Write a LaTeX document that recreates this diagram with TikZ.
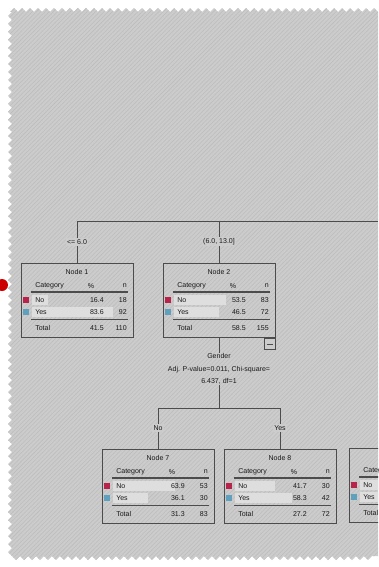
\documentclass[tikz,border=0pt]{standalone}
\usepackage{fontspec}
\setmainfont{Liberation Sans}
\usetikzlibrary{calc,patterns}

\definecolor{bggray}{gray}{0.80}
\definecolor{hatchgray}{gray}{0.74}
\definecolor{boxgray}{gray}{0.30}
\definecolor{bargray}{gray}{0.87}
\definecolor{noRed}{RGB}{185,35,75}
\definecolor{yesBlue}{RGB}{95,160,190}

\tikzset{
  nodebox/.style={draw=boxgray, line width=0.7pt, minimum width=28mm, minimum height=18.5mm, inner sep=0pt},
  cell/.style={font=\fontsize{5}{6}\selectfont, inner sep=0pt, text=black!90},
  lbl/.style={font=\fontsize{5}{6}\selectfont, fill=bggray, inner sep=1pt, text=black!90},
  rule/.style={draw=boxgray, line width=0.5pt},
  link/.style={draw=boxgray, line width=0.7pt},
  catmark/.style={minimum size=1.4mm, inner sep=0pt},
}

% one category node: name, centre, title, No %, No n, Yes %, Yes n, Total %, Total n
\newcommand{\catnode}[9]{%
  \node[nodebox] (#1) at (#2) {};
  \fill[bargray] ($(#1)+(-45,-5)$) rectangle ($(#1)+(-45+#4*0.97,5)$);
  \fill[bargray] ($(#1)+(-45,7)$) rectangle ($(#1)+(-45+#6*0.97,17)$);
  \node[cell] (#1-t) at ($(#1)+(0,-28)$) {#3};
  \node[cell, anchor=west] (#1-c) at ($(#1)+(-42,-14)$) {Category};
  \node[cell] (#1-p) at ($(#1)+(14,-14)$) {\%};
  \node[cell, anchor=east] (#1-n) at ($(#1)+(50,-14)$) {n};
  \draw[rule, line width=0.8pt] ($(#1)+(-46,-8)$) -- ($(#1)+(51,-8)$);
  \node[catmark, fill=noRed] (#1-m1) at ($(#1)+(-51,0)$) {};
  \node[cell, anchor=west] (#1-r1) at ($(#1)+(-42,0)$) {No};
  \node[cell, anchor=east] at ($(#1)+(27,0)$) {#4};
  \node[cell, anchor=east] at ($(#1)+(50,0)$) {#5};
  \node[catmark, fill=yesBlue] (#1-m2) at ($(#1)+(-51,12)$) {};
  \node[cell, anchor=west] (#1-r2) at ($(#1)+(-42,12)$) {Yes};
  \node[cell, anchor=east] at ($(#1)+(27,12)$) {#6};
  \node[cell, anchor=east] at ($(#1)+(50,12)$) {#7};
  \draw[rule] ($(#1)+(-46,19)$) -- ($(#1)+(51,19)$);
  \node[cell, anchor=west] (#1-r3) at ($(#1)+(-42,28)$) {Total};
  \node[cell, anchor=east] at ($(#1)+(27,28)$) {#8};
  \node[cell, anchor=east] at ($(#1)+(50,28)$) {#9};
}

\begin{document}
\begin{tikzpicture}[x=0.25mm, y=-0.25mm]
    \useasboundingbox (0,0) rectangle (378,567);
    \clip (0,0) rectangle (378,567);

    % torn grey sheet
    \path[fill=bggray, postaction={pattern=north east lines, pattern color=hatchgray}]
      (378,12)
      foreach \i in {0,...,45} { -- ({374-8*\i},8) -- ({370-8*\i},12) }
      -- (12,12)
      foreach \i in {0,...,67} { -- (8,{16+8*\i}) -- (12,{20+8*\i}) }
      -- (12,556)
      foreach \i in {0,...,44} { -- ({16+8*\i},560) -- ({20+8*\i},556) }
      -- (378,556) -- cycle;

    % marker at the left edge
    \fill[red!80!black] (2,285) circle (6);

    % nodes
    \catnode{n1}{77,300}{Node 1}{16.4}{18}{83.6}{92}{41.5}{110}
    \catnode{n2}{219,300}{Node 2}{53.5}{83}{46.5}{72}{58.5}{155}
    \catnode{n7}{158,486}{Node 7}{63.9}{53}{36.1}{30}{31.3}{83}
    \catnode{n8}{280,486}{Node 8}{41.7}{30}{58.3}{42}{27.2}{72}
    \catnode{n9}{405,485}{Node 9}{50.0}{10}{50.0}{10}{7.5}{20}

    % collapse toggle of node 2
    \node[draw=boxgray, line width=0.6pt, fill=bggray, minimum size=2.75mm, inner sep=0pt] (n2-tog) at ($(n2.south east)+(-5.5,6.5)$) {};
    \draw[rule] ($(n2-tog)+(-3,0)$) -- ($(n2-tog)+(3,0)$);

    % first split
    \coordinate (tr) at (378,221);
    \draw[link] (tr) -| node[lbl, pos=0.75] {<= 6.0} (n1.north);
    \draw[link] (n2.north |- tr) -- node[lbl] {(6.0, 13.0]} (n2.north);

    % split of node 2
    \node[cell, align=center, font=\fontsize{5}{8.8}\selectfont] (n2-split) at (219,369)
      {Gender\\Adj. P-value=0.011, Chi-square=\\6.437, df=1};
    \coordinate (j2) at (219,408);
    \draw[link] (n2.south) -- (n2-split.north);
    \draw[link] (n2-split.south) -- (j2);
    \draw[link] (j2) -| node[lbl, pos=0.75] {No} (n7.north);
    \draw[link] (j2) -| node[lbl, pos=0.75] {Yes} (n8.north);
\end{tikzpicture}
\end{document}
